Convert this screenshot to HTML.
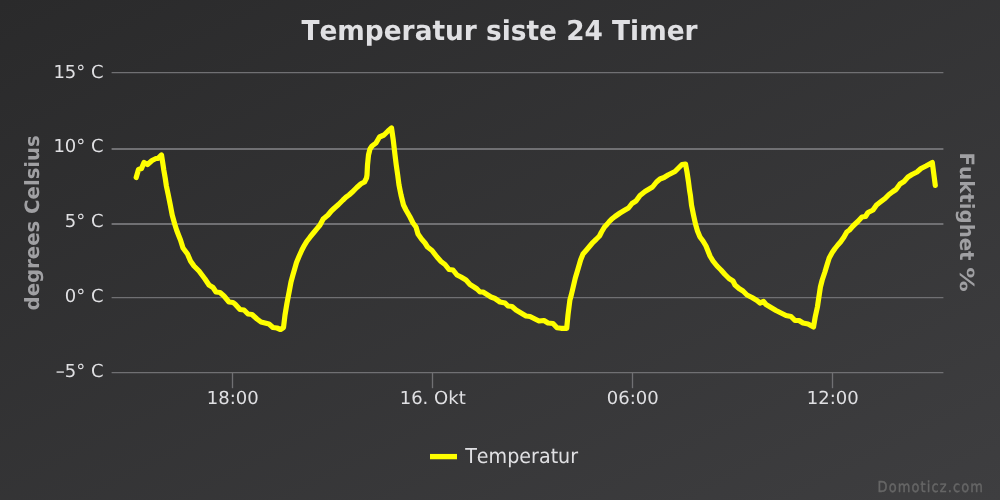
<!DOCTYPE html>
<html lang="no">
<head>
<meta charset="utf-8">
<title>Temperatur siste 24 Timer</title>
<style>
html,body{margin:0;padding:0;background:#333334;overflow:hidden}
svg{display:block}
text{font-family:"DejaVu Sans","Verdana","Liberation Sans",sans-serif;font-kerning:none;text-rendering:geometricPrecision}
</style>
</head>
<body>
<svg width="1000" height="500" viewBox="0 0 1000 500">
<defs>
<linearGradient id="bg" x1="0" y1="0" x2="1" y2="1">
<stop offset="0" stop-color="#2a2a2b"/>
<stop offset="1" stop-color="#3e3e40"/>
</linearGradient>
</defs>
<rect x="0" y="0" width="1000" height="500" fill="url(#bg)"/>
<g stroke="#707073" stroke-width="1.333" fill="none">
<path d="M111.6 72.6 H943.4" stroke-width="1.333"/>
<path d="M111.6 149.0 H943.4" stroke-width="1.8"/>
<path d="M111.6 224.0 H943.4" stroke-width="1.8"/>
<path d="M111.6 297.6 H943.4" stroke-width="1.333"/>
<path d="M111.6 372.6 H943.4" stroke-width="1.333"/>
<path d="M232.5 372.6 V388.2"/>
<path d="M432.5 372.6 V388.2"/>
<path d="M632.5 372.6 V388.2"/>
<path d="M832.5 372.6 V388.2"/>
</g>
<path d="M136.2 177.5 L138.5 169.5 L141.5 168.5 L144 162.5 L147.5 164.5 L152 160.5 L156 158.5 L158 158.3 L161.5 155 L162.6 162 L163.8 170 L165.2 178 L166.4 186 L168.3 195 L170.3 205 L172.2 215 L174.7 224 L176.6 230 L178.5 235 L180.5 240 L183 248 L187.5 254 L190.5 261 L194 266 L199 271 L205 279 L209 285 L213 287.5 L216 292 L220 292.5 L224 296 L229 302 L233 302.5 L235 304 L240 309.5 L244 310 L248 314 L252 314.5 L257 319 L261 322 L265 323 L269 324 L273 327.5 L277 328 L280.5 329.5 L283.5 327.5 L285 315 L287 303 L289.5 290 L291 282 L292.9 275 L294.8 268.5 L296.5 262.5 L299.2 256 L301.9 250 L304 246 L306.5 241.8 L310 237.2 L313.8 232.5 L316.8 228.8 L320 225 L323.2 219 L328 215 L331.3 211 L334.5 208 L338.5 204.5 L343 200 L346 197.2 L349 195 L352 192.3 L356.8 187.5 L361 183.8 L364.5 182 L366.5 178 L367 175 L367.5 165 L368.5 155 L370 149 L372 146 L376 143 L379.5 137 L384 135 L388 131 L391.5 128 L393.25 140 L395 155 L396.25 165 L397.7 175 L399 185 L401 195 L403.5 205 L406 210 L410 217 L413 223 L416 227 L418 234 L421.5 239 L425 243 L427.5 247 L432 250.5 L437 257 L441 261.5 L445 264.5 L449 269.5 L453 270 L457 275 L461 277 L466 280 L470 284.5 L474 287 L477 289 L480 292 L483 292 L487 294.5 L491 297 L495 298.5 L500 302 L505 303 L508 306 L512 306.5 L516 310 L521 313 L526 316 L530 316.5 L535 319 L539 321 L544 320.5 L548 323 L553 323.5 L557 327.7 L561 328.3 L566.7 328.3 L568 315 L569.9 300 L571.3 295 L573.2 287 L575.3 278 L577.7 270 L580.6 260 L583 254 L586.5 250 L590.7 245 L593 242.3 L596 239.5 L599.5 236 L601.5 232 L604.5 227 L607.3 224 L609.3 221.5 L611.5 219.3 L615 216.5 L620 213 L625 210 L628.5 208 L632 203.5 L636 201 L640 195.5 L645 191.5 L650 188.5 L652.5 187 L656.5 182 L660 179 L664 177.5 L668 175 L672 173 L675 171.5 L678 168.5 L682 164.5 L685.5 164 L687 172 L688.5 182 L689.5 190 L690.5 196 L691.5 205 L693.5 215 L695.5 224 L697.5 231 L700 237 L703 241 L706 246 L708 251 L710 256 L713 261 L717 266 L721 270 L725 274.5 L729 278.5 L733 281 L735 285 L739 288.5 L743 291 L747 295 L752 297.5 L757 300.5 L760 303 L763.5 301.5 L766 304.5 L771 307.5 L776 310.5 L781 313 L786 315.5 L791 316.5 L795 320.5 L799 320.5 L803 323 L808 324 L813.5 327 L815.2 317 L817.4 307 L818.9 297 L820.4 287 L822.2 280 L824.9 272 L827 265 L829.2 258 L832.2 252.5 L835 248.5 L837.8 245 L840.5 242 L844 237 L846.8 232 L849.5 230 L853 226 L857.8 221.5 L862 217 L865.5 216.5 L868 212.5 L873 210 L876.5 205 L881 201.5 L885 198.5 L889 194.5 L893 191.5 L896 189.5 L900 184 L904 181.5 L908 177 L912 174.5 L917 172 L921 168.5 L926 166 L932.3 162.5 L935.3 185.5" fill="none" stroke="#ffff00" stroke-width="5.2" stroke-linejoin="round" stroke-linecap="round"/>
<text transform="translate(499.5 40) scale(1 1.04)" text-anchor="middle" font-size="26.4" font-weight="bold" fill="#E0E0E3">Temperatur siste 24 Timer</text>
<g font-size="18" fill="#E0E0E3" text-anchor="end">
<text transform="translate(103.6 78)">15° C</text>
<text transform="translate(103.6 151.5)">10° C</text>
<text transform="translate(103.6 226.5)">5° C</text>
<text transform="translate(103.6 301.5)">0° C</text>
<text transform="translate(103.6 376.5)">–5° C</text>
</g>
<g font-size="18" fill="#E0E0E3" text-anchor="middle">
<text transform="translate(232.7 403.6)">18:00</text>
<text transform="translate(432.7 403.6)">16. Okt</text>
<text transform="translate(632.7 403.6)">06:00</text>
<text transform="translate(832.7 403.6)">12:00</text>
</g>
<text transform="translate(39 222.8) rotate(-90)" text-anchor="middle" font-size="19.7" font-weight="bold" fill="#A0A0A3">degrees Celsius</text>
<text transform="translate(960 152.6) rotate(90)" font-size="19.75" font-weight="bold" fill="#A0A0A3" xml:space="preserve">Fuktighet <tspan x="114.6" font-size="19.5" textLength="24.6" lengthAdjust="spacingAndGlyphs">%</tspan></text>
<path d="M430 456.6 H457" stroke="#ffff00" stroke-width="5.333" fill="none"/>
<text transform="translate(465.2 463.3) scale(1 1.07)" font-size="19.1" fill="#E0E0E3">Temperatur</text>
<text transform="translate(877.6 491.6) scale(1 1.16)" font-size="13" letter-spacing="1.1" fill="#666666" stroke="#666666" stroke-width="0.35">Domoticz.com</text>
</svg>
</body>
</html>
